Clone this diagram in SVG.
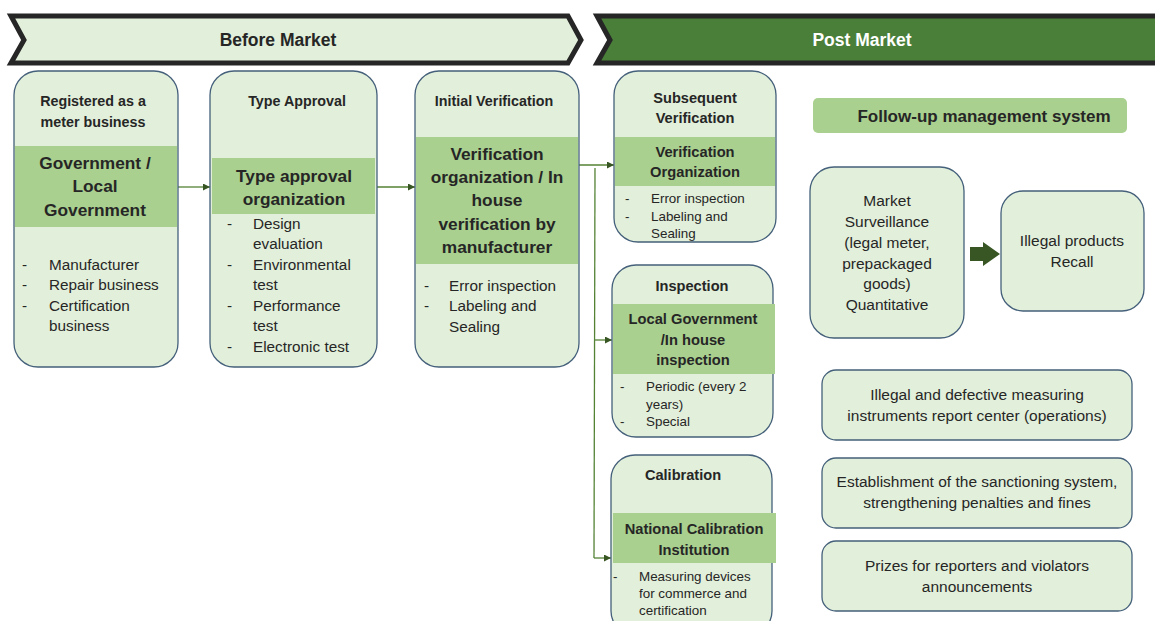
<svg xmlns="http://www.w3.org/2000/svg" width="1155" height="621" viewBox="0 0 1155 621">
<defs>
<style>
text{font-family:"Liberation Sans",Arial,sans-serif;fill:#262626}
.b{font-weight:bold}
.c{text-anchor:middle}
.box{fill:#E2EFDA;stroke:#44607A;stroke-width:1.3}
.band{fill:#A9D08E}
.hd{font-size:14.3px;font-weight:bold}
.hd2{font-size:14.6px;font-weight:bold}
.bt{font-size:17.3px;font-weight:bold}
.bt2{font-size:14.7px;font-weight:bold}
.li{font-size:15.3px}
.ls{font-size:13.4px}
.bx{font-size:15.5px}
.con{fill:none;stroke:#548235;stroke-width:1.3}
</style>
<marker id="ah" viewBox="0 0 10 10" refX="10" refY="5" markerWidth="7" markerHeight="7" markerUnits="userSpaceOnUse" orient="auto">
<path d="M0,0 L10,5 L0,10 z" fill="#375623"/>
</marker>
</defs>
<rect width="1155" height="621" fill="#ffffff"/>

<g id="banner-before">
<path d="M11,16 L568,16 L581,40 L568,63 L11,63 L24,40 z" fill="#E2EFDA" stroke="#262626" stroke-width="5" stroke-linejoin="miter"/>
<text class="b c" x="278" y="46" style="font-size:17.5px">Before Market</text>
</g>
<g id="banner-post">
<path d="M597,16 L1160,16 L1160,63 L597,63 L610,40 z" fill="#4A7F3A" stroke="#262626" stroke-width="5"/>
<text class="b c" x="862" y="46" style="font-size:17.5px;fill:#ffffff">Post Market</text>
</g>

<g id="connectors">
<line class="con" x1="178" y1="187" x2="210" y2="187" marker-end="url(#ah)"/>
<line class="con" x1="377" y1="187" x2="415" y2="187" marker-end="url(#ah)"/>
<line class="con" x1="579" y1="165" x2="614" y2="165" marker-end="url(#ah)"/>
<path class="con" d="M595,168 L594,558"/>
<line class="con" x1="595" y1="340" x2="612" y2="340" marker-end="url(#ah)"/>
<line class="con" x1="594" y1="558" x2="611" y2="558" marker-end="url(#ah)"/>
<path d="M970,247 L983,247 L983,242 L1000,254 L983,266 L983,261 L970,261 z" fill="#375623"/>
</g>

<g id="node-registered">
<rect class="box" x="14" y="71" width="164" height="296" rx="24"/>
<rect class="band" x="15" y="146" width="162" height="81"/>
<text class="hd c" x="93" y="106">Registered as a</text>
<text class="hd c" x="93" y="127">meter business</text>
<text class="bt c" x="95" y="169">Government /</text>
<text class="bt c" x="95" y="192">Local</text>
<text class="bt c" x="95" y="216">Government</text>
<g class="li">
<text x="22" y="270">-</text><text x="49" y="270">Manufacturer</text>
<text x="22" y="290">-</text><text x="49" y="290">Repair business</text>
<text x="22" y="311">-</text><text x="49" y="311">Certification</text>
<text x="49" y="331">business</text>
</g>
</g>

<g id="node-type-approval">
<rect class="box" x="210" y="71" width="167" height="296" rx="24"/>
<rect class="band" x="212" y="158" width="163" height="56"/>
<text class="hd c" x="297" y="106">Type Approval</text>
<text class="bt c" x="294" y="182">Type approval</text>
<text class="bt c" x="294" y="205">organization</text>
<g class="li">
<text x="227" y="229">-</text><text x="253" y="229">Design</text>
<text x="253" y="249">evaluation</text>
<text x="227" y="270">-</text><text x="253" y="270">Environmental</text>
<text x="253" y="290">test</text>
<text x="227" y="311">-</text><text x="253" y="311">Performance</text>
<text x="253" y="331">test</text>
<text x="227" y="352">-</text><text x="253" y="352">Electronic test</text>
</g>
</g>

<g id="node-initial-verification">
<rect class="box" x="415" y="71" width="164" height="296" rx="24"/>
<rect class="band" x="416" y="137" width="162" height="127"/>
<text class="hd c" x="494" y="106">Initial Verification</text>
<text class="bt c" x="497" y="160">Verification</text>
<text class="bt c" x="497" y="183">organization / In</text>
<text class="bt c" x="497" y="206">house</text>
<text class="bt c" x="497" y="230">verification by</text>
<text class="bt c" x="497" y="253">manufacturer</text>
<g class="li">
<text x="424" y="291">-</text><text x="449" y="291">Error inspection</text>
<text x="424" y="311">-</text><text x="449" y="311">Labeling and</text>
<text x="449" y="332">Sealing</text>
</g>
</g>

<g id="node-subsequent-verification">
<rect class="box" x="614" y="71" width="162" height="171" rx="24"/>
<rect class="band" x="615" y="137" width="160" height="49"/>
<text class="hd2 c" x="695" y="103">Subsequent</text>
<text class="hd2 c" x="695" y="123">Verification</text>
<text class="bt2 c" x="695" y="157">Verification</text>
<text class="bt2 c" x="695" y="177">Organization</text>
<g class="ls">
<text x="625" y="203">-</text><text x="651" y="203">Error inspection</text>
<text x="625" y="221">-</text><text x="651" y="221">Labeling and</text>
<text x="651" y="238">Sealing</text>
</g>
</g>

<g id="node-inspection">
<rect class="box" x="612" y="265" width="161" height="172" rx="24"/>
<rect class="band" x="613" y="304" width="162" height="70"/>
<text class="hd2 c" x="692" y="291">Inspection</text>
<text class="bt2 c" x="693" y="324">Local Government</text>
<text class="bt2 c" x="693" y="345">/In house</text>
<text class="bt2 c" x="693" y="365">inspection</text>
<g class="ls">
<text x="620" y="391">-</text><text x="646" y="391">Periodic (every 2</text>
<text x="646" y="409">years)</text>
<text x="620" y="426">-</text><text x="646" y="426">Special</text>
</g>
</g>

<g id="node-calibration">
<rect class="box" x="611" y="455" width="161" height="180" rx="24"/>
<rect class="band" x="613" y="513" width="163" height="50"/>
<text class="hd2 c" x="683" y="480">Calibration</text>
<text class="bt2 c" x="694" y="534">National Calibration</text>
<text class="bt2 c" x="694" y="555">Institution</text>
<g class="ls">
<text x="613" y="581">-</text><text x="639" y="581">Measuring devices</text>
<text x="639" y="598">for commerce and</text>
<text x="639" y="615">certification</text>
</g>
</g>

<g id="node-followup">
<rect x="813" y="98" width="314" height="35" rx="5" fill="#A9D08E"/>
<text class="b c" x="984" y="122" style="font-size:17px">Follow-up management system</text>
</g>

<g id="node-market-surveillance">
<rect class="box" x="810" y="167" width="154" height="171" rx="24"/>
<g class="bx">
<text class="c" x="887" y="206">Market</text>
<text class="c" x="887" y="227">Surveillance</text>
<text class="c" x="887" y="248">(legal meter,</text>
<text class="c" x="887" y="269">prepackaged</text>
<text class="c" x="887" y="289">goods)</text>
<text class="c" x="887" y="310">Quantitative</text>
</g>
</g>

<g id="node-recall">
<rect class="box" x="1001" y="191" width="143" height="120" rx="22"/>
<text class="bx c" x="1072" y="246">Illegal products</text>
<text class="bx c" x="1072" y="267">Recall</text>
</g>

<g id="node-report-center">
<rect class="box" x="822" y="370" width="310" height="70" rx="14"/>
<text class="bx c" x="977" y="400">Illegal and defective measuring</text>
<text class="bx c" x="977" y="421">instruments report center (operations)</text>
</g>

<g id="node-sanctioning">
<rect class="box" x="822" y="458" width="310" height="70" rx="14"/>
<text class="bx c" x="977" y="487">Establishment of the sanctioning system,</text>
<text class="bx c" x="977" y="508">strengthening penalties and fines</text>
</g>

<g id="node-prizes">
<rect class="box" x="822" y="541" width="310" height="70" rx="14"/>
<text class="bx c" x="977" y="571">Prizes for reporters and violators</text>
<text class="bx c" x="977" y="592">announcements</text>
</g>
</svg>
